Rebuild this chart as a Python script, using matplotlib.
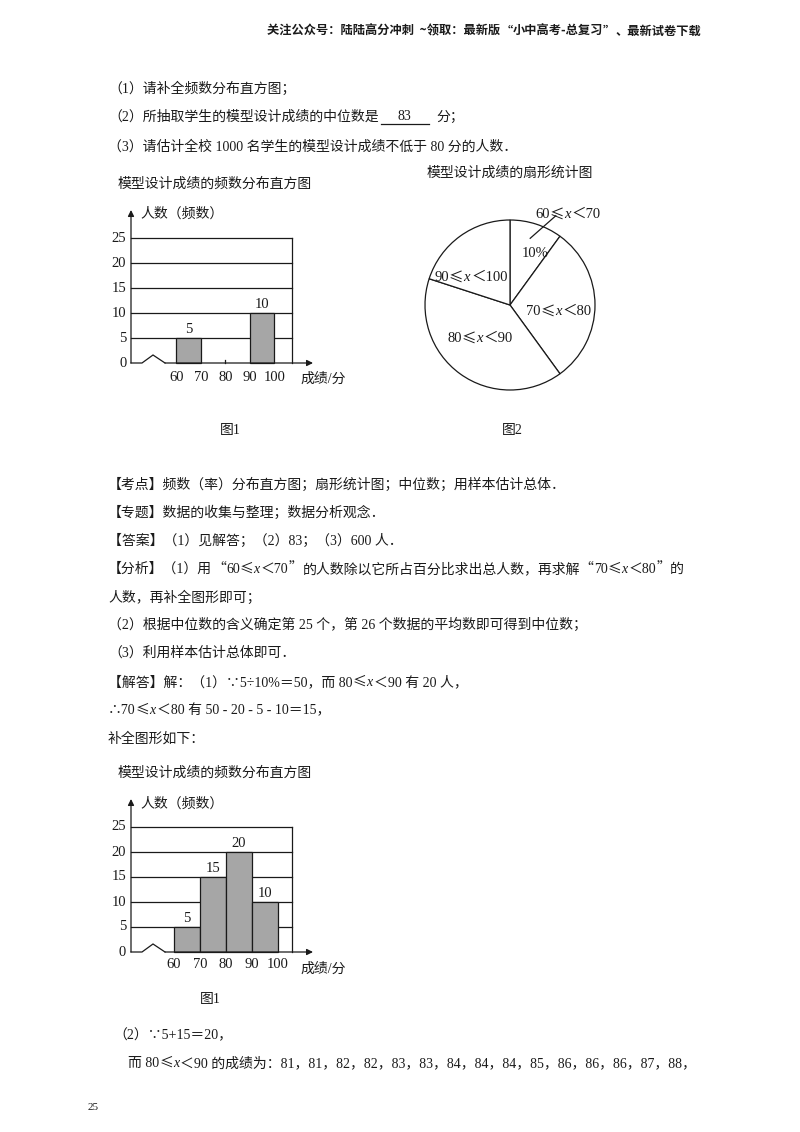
import matplotlib
matplotlib.use('Agg')
import numpy as np
import matplotlib.pyplot as plt
from matplotlib.font_manager import FontProperties, findfont, get_font

W, H = 800, 1132

# Data
bins = [60, 70, 80, 90, 100]
counts_given = [5, 0, 0, 10]     # histogram as printed in the question
counts_full = [5, 15, 20, 10]    # completed histogram
y_ticks = [0, 5, 10, 15, 20, 25]
pie_counts = [5, 15, 20, 10]
scores_80_90 = [81, 81, 82, 82, 83, 83, 84, 84, 84, 85, 86, 86, 86, 87, 88]

SERIF = ['Liberation Serif', 'Noto Sans CJK SC']
SANS = ['Noto Sans CJK SC', 'DejaVu Sans']
INK = '#1a1a1a'
GRAY = '#a6a6a6'
LW = 0.9
WIDE = '“”≤'   # drawn one by one from the CJK font on a full em

fig = plt.figure(figsize=(W / 100, H / 100), dpi=100)
fig.patch.set_facecolor('white')
renderer = fig.canvas.get_renderer()
cjk_font = get_font(findfont(FontProperties(family='Noto Sans CJK SC')))
HF = plt.rcParams['text.hinting_factor']


def split_runs(s):
    runs, buf = [], ''
    for ch in s:
        if ch == 'x' or ch in WIDE:
            if buf:
                runs.append((buf, 'n'))
                buf = ''
            runs.append((ch, 'i' if ch == 'x' else 'w'))
        else:
            buf += ch
    if buf:
        runs.append((buf, 'n'))
    return runs


def put(x, y, s, size=10, ha='left', bold=False, sans=False):
    # x, y in page pixels (y from the top, y = middle of the line)
    px = size * 100 / 72
    base = 1 - (y + 0.36 * px) / H
    arts = []
    cx = x
    for seg, kind in split_runs(s):
        off = 0
        if kind == 'i':
            fam = ['Liberation Serif']
        elif kind == 'w':
            fam = SANS
            cjk_font.set_size(size, 100)
            adv = cjk_font.load_char(ord(seg)).horiAdvance / 64 / HF
            gap = max(px - adv, 0)
            off = {'“': gap, '”': 0}.get(seg, gap / 2)
        else:
            fam = SANS if sans else SERIF
        t = fig.text((cx + off) / W, base, seg, fontsize=size, family=fam,
                     style='italic' if kind == 'i' else 'normal',
                     weight='bold' if bold else 'normal',
                     va='baseline', ha='left', color=INK)
        if kind == 'w':
            cx += max(px, adv)
        else:
            cx += t.get_window_extent(renderer).width + (1 if kind == 'i' else 0)
        arts.append(t)
    if ha != 'left':
        shift = (cx - x) * (0.5 if ha == 'center' else 1.0)
        for t in arts:
            t.set_x(t.get_position()[0] - shift / W)
    return cx


def histogram(counts, axis_x, zero_y, x60, bin_px, grid_r, arrow_r, arrow_top,
              lab_dy, marks=()):
    ppu = 5.0   # pixels per person
    to_x = lambda p: 60 + (p - x60) / bin_px * 10
    xl, xr = to_x(axis_x), to_x(arrow_r)
    xg = to_x(grid_r)
    ytop = (zero_y - arrow_top) / ppu
    left, right = axis_x - 2, arrow_r + 4
    ax = fig.add_axes([left / W, 1 - (zero_y + 4) / H,
                       (right - left) / W, (zero_y + 4 - arrow_top + 2) / H])
    ax.set_xlim(to_x(left), to_x(right))
    ax.set_ylim(-4 / ppu, ytop + 2 / ppu)
    ax.set_axis_off()

    for v in y_ticks[1:]:
        ax.plot([xl, xg], [v, v], color=INK, lw=LW)
    ax.plot([xg, xg], [0, y_ticks[-1]], color=INK, lw=LW)

    lefts = [b for b, c in zip(bins[:-1], counts) if c > 0]
    vals = [c for c in counts if c > 0]
    ax.bar(lefts, vals, width=10, align='edge', color=GRAY,
           edgecolor=INK, linewidth=LW, zorder=3)
    for b, c in zip(lefts, vals):
        ax.text(b + 5, c + 0.4, str(c), ha='center', va='bottom',
                fontsize=10.5, family=SERIF, color=INK)
    for m in marks:
        ax.plot([m, m], [0, 0.7], color=INK, lw=LW)

    # axes with break mark
    za, zp, zb = to_x(142), to_x(153), to_x(165)
    ax.plot([xl, za, zp, zb], [0, 0, 1.6, 0], color=INK, lw=LW,
            solid_joinstyle='miter')
    arrow = dict(arrowstyle='-|>', color=INK, lw=LW, mutation_scale=9,
                 shrinkA=0, shrinkB=0)
    ax.annotate('', xy=(xr, 0), xytext=(zb, 0), arrowprops=arrow)
    ax.annotate('', xy=(xl, ytop), xytext=(xl, 0), arrowprops=arrow)

    for v in y_ticks:
        ax.text(xl - 1.9, v, str(v), ha='right', va='center',
                fontsize=10.5, family=SERIF, color=INK, clip_on=False)
    for b in bins:
        ax.text(b, -lab_dy / ppu, str(b), ha='center', va='center',
                fontsize=10.5, family=SERIF, color=INK, clip_on=False)
    return ax


# header
put(701, 30, '关注公众号：陆陆高分冲刺  ~领取：最新版“小中高考-总复习”、最新试卷下载',
    size=8.8, ha='right', bold=True, sans=True)

# questions
put(108, 88, '（1）请补全频数分布直方图；')
end = put(108, 116, '（2）所抽取学生的模型设计成绩的中位数是')
fig.add_artist(plt.Line2D([(end + 2) / W, (end + 50) / W],
                          [1 - 124 / H, 1 - 124 / H], color=INK, lw=0.9))
put(end + 26, 115, '83', ha='center')
put(end + 58, 116, '分；')
put(108, 146, '（3）请估计全校 1000 名学生的模型设计成绩不低于 80 分的人数．')

# figure 1 (given)
put(118, 183, '模型设计成绩的频数分布直方图')
histogram(counts_given, 131, 363, 176.5, 24.5, 292, 313, 210, 14, marks=[80])
put(140, 213, '人数（频数）')
put(300, 378, '成绩/分')
put(230, 429, '图1', ha='center')

# figure 2 (pie)
put(427, 172, '模型设计成绩的扇形统计图')
cx_p, cy_p, r = 510, 305, 85
axp = fig.add_axes([(cx_p - 1.3 * r) / W, 1 - (cy_p + 1.3 * r) / H,
                    2.6 * r / W, 2.6 * r / H])
axp.pie(pie_counts, startangle=90, counterclock=False,
        colors=['white'] * len(pie_counts),
        wedgeprops=dict(edgecolor=INK, linewidth=LW))
axp.set_aspect('auto')
axp.set_xlim(-1.3, 1.3)
axp.set_ylim(-1.3, 1.3)
axp.set_axis_off()
a0 = np.deg2rad(90 - 360 * pie_counts[0] / sum(pie_counts) / 2)
axp.plot([0.82 * np.cos(a0 + 0.02), 1.18 * np.cos(a0 - 0.16)],
         [0.82 * np.sin(a0 + 0.02), 1.18 * np.sin(a0 - 0.16)], color=INK, lw=LW)
put(535, 213, '60≤x＜70', size=10.5)
put(535, 252, f'{round(100 * pie_counts[0] / sum(pie_counts))}%', size=10.5, ha='center')
put(471, 276, '90≤x＜100', size=10.5, ha='center')
put(559, 310, '70≤x＜80', size=10.5, ha='center')
put(480, 337, '80≤x＜90', size=10.5, ha='center')
put(512, 429, '图2', ha='center')

# solution text
lines = [
    (484, '【考点】频数（率）分布直方图；扇形统计图；中位数；用样本估计总体．'),
    (512, '【专题】数据的收集与整理；数据分析观念．'),
    (540, '【答案】（1）见解答；（2）83；（3）600 人．'),
    (568, '【分析】（1）用“60≤x＜70”的人数除以它所占百分比求出总人数，再求解“70≤x＜80”的'),
    (597, '人数，再补全图形即可；'),
    (624, '（2）根据中位数的含义确定第 25 个，第 26 个数据的平均数即可得到中位数；'),
    (652, '（3）利用样本估计总体即可．'),
    (681, '【解答】解：（1）∵5÷10%＝50，而 80≤x＜90 有 20 人，'),
    (709, '∴70≤x＜80 有 50 - 20 - 5 - 10＝15，'),
    (738, '补全图形如下：'),
]
for y, s in lines:
    put(108, y, s)

# figure 1 (completed)
put(118, 772, '模型设计成绩的频数分布直方图')
histogram(counts_full, 131, 952, 174, 26, 292, 313, 799, 13)
put(140, 803, '人数（频数）')
put(300, 968, '成绩/分')
put(210, 998, '图1', ha='center')

put(113, 1034, '（2）∵5+15＝20，')
put(128, 1062, '而 80≤x＜90 的成绩为：' + '，'.join(str(v) for v in scores_80_90) + '，')
put(88, 1106, '25', size=8)

fig.savefig('out.png', dpi=100, facecolor='white')
